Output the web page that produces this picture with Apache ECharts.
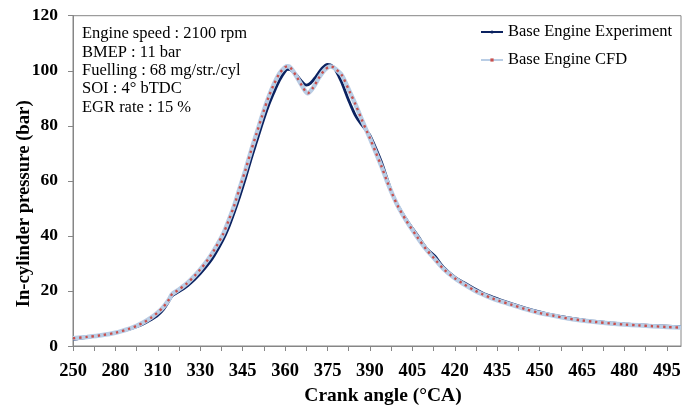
<!DOCTYPE html>
<html>
<head>
<meta charset="utf-8">
<script src="https://cdn.jsdelivr.net/npm/echarts@6/dist/echarts.min.js"></script>
<style>html,body{margin:0;padding:0;background:#fff;}#c{width:690px;height:406px;}</style>
</head>
<body>
<div id="c"></div>
<script>
// Crank-angle categories of the original (1 deg steps before 320, 0.5 deg after)
const categories = [];
for (let a = 250; a < 320; a += 1) categories.push(String(a));
for (let a = 320; a <= 500; a += 0.5) categories.push(String(a));

const annotationLines = [
  'Engine speed : 2100 rpm',
  'BMEP : 11 bar',
  'Fuelling : 68 mg/str./cyl',
  'SOI : 4\u00b0 bTDC',
  'EGR rate : 15 %'
];

const expAngle = [250,255,260,265,270,275,280,285,290,295,300,305,310,314,318,320,322,325,328,330,333,335,338,340,342,344,346,348,350,352,354,356,358,360,361,362,364,366,367.5,369,371,373,375,376,377,378,379,380,382,383,385,387,389,390,392,394,396,398,400,403,407,410,413,416,420,423,427,430,433,436,440,445,450,455,460,465,470,475,480,485,490,495,500];
const expPressure = [2.4,2.8,3.1,3.5,3.9,4.3,4.8,5.4,6.1,7.0,8.1,9.5,11.2,13.3,16.5,18.2,19.5,21.5,24.2,26.3,30.0,33.0,38.5,43,48.5,54.5,61,68,74.5,81,87,92,96.5,99.8,100.5,100.3,98.5,96,94.8,95.5,98,100.8,102.3,102.2,101.5,100,98,95.8,90.5,88,83.5,80.5,78,76.5,72,67,61,55,50.8,45.8,39.9,35.5,32.6,28.6,25,23.2,20.8,19.2,18,16.8,15.4,13.8,12.4,11.2,10.3,9.5,8.9,8.4,8.0,7.7,7.4,7.2,7.0];

const cfdAngle = [250,260,270,280,290,295,300,305,310,314,318,320,322,325,328,330,333,335,338,340,342,344,346,348,350,352,354,356,358,360,361,362,364,366,368,370,372,374,376,377,378,380,383,385,387,389,390,392,394,396,398,400,403,407,410,413,416,420,423,427,430,433,436,440,445,450,455,460,465,470,475,480,485,490,495,500];
const cfdPressure = [2.8,3.3,3.9,4.8,6.3,7.3,8.6,10.2,12.2,14.2,17.0,18.8,20.2,22.5,25.5,27.8,31.8,35,40.5,45.5,51,57.5,64,71,77.5,84,90,95,99,101.3,101.6,101,98,94.5,91.8,94,97.5,100.3,101.5,101.3,100.5,98.5,92,87.5,82.5,77.8,75.5,70.5,65.5,60,55,50.6,45.3,39.2,35,31.5,28,24.6,22.6,20.2,18.7,17.4,16.3,15,13.4,12,11,10,9.3,8.7,8.2,7.8,7.5,7.2,6.9,6.7];

const yTicks = {min: 0, max: 120, interval: 20};

function pairs(angles, vals) {
  return angles.map((a, i) => [categories.indexOf(String(a)), vals[i]]);
}

const serif = '"Liberation Serif", "Times New Roman", serif';
const axisGray = '#868686';

const chart = echarts.init(document.getElementById('c'), null, {renderer: 'canvas'});
chart.setOption({
  animation: false,
  backgroundColor: '#fff',
  title: {
    text: annotationLines.join('\n'),
    left: 82, top: 25, padding: 0,
    textStyle: {fontFamily: serif, fontSize: 16.5, fontWeight: 'normal', color: '#000', lineHeight: 18.3}
  },
  legend: {
    orient: 'vertical',
    left: 480, top: 23, padding: 0,
    itemWidth: 22, itemHeight: 4, itemGap: 10,
    data: ['Base Engine Experiment', 'Base Engine CFD'],
    textStyle: {fontFamily: serif, fontSize: 16.5, color: '#000', lineHeight: 18}
  },
  grid: {left: 73, right: 9, top: 15.7, bottom: 60, show: true, borderColor: axisGray, borderWidth: 1,
         backgroundColor: 'transparent', containLabel: false, outerBoundsMode: 'none'},
  xAxis: {
    type: 'category',
    data: categories,
    boundaryGap: false,
    name: 'Crank angle (\u00b0CA)',
    nameLocation: 'middle',
    nameGap: 40,
    nameTextStyle: {fontFamily: serif, fontSize: 19.5, fontWeight: 'bold', color: '#000', padding: [0, 0, 0, 12]},
    axisLine: {lineStyle: {color: axisGray, width: 1}},
    axisTick: {show: true, interval: 14, length: 5, lineStyle: {color: axisGray}},
    axisLabel: {interval: 29, margin: 16, fontFamily: serif, fontSize: 18.5, fontWeight: 'bold', color: '#000'},
    splitLine: {show: false}
  },
  yAxis: {
    type: 'value',
    min: yTicks.min, max: yTicks.max, interval: yTicks.interval,
    name: 'In-cylinder pressure (bar)',
    nameLocation: 'middle',
    nameGap: 39,
    nameRotate: 90,
    nameMoveOverlap: false,
    nameTextStyle: {fontFamily: serif, fontSize: 18.7, fontWeight: 'bold', color: '#000', padding: [0, 46, 0, 0]},
    axisLine: {show: true, lineStyle: {color: axisGray, width: 1}},
    axisTick: {show: true, length: 5, lineStyle: {color: axisGray}},
    axisLabel: {margin: 15, fontFamily: serif, fontSize: 17.5, fontWeight: 'bold', color: '#000'},
    splitLine: {show: false}
  },
  series: [
    {
      name: 'Base Engine Experiment',
      type: 'line',
      data: pairs(expAngle, expPressure),
      smooth: 0.3,
      symbol: 'none',
      showSymbol: false,
      itemStyle: {color: '#0b2260'},
      lineStyle: {color: '#0b2260', width: 2.8},
      z: 2
    },
    {
      name: 'Base Engine CFD',
      type: 'line',
      data: pairs(cfdAngle, cfdPressure),
      smooth: 0.3,
      symbol: 'rect',
      symbolSize: 3,
      showSymbol: false,
      itemStyle: {color: '#c9504d'},
      lineStyle: {color: '#b9cde5', width: 4.5},
      z: 3
    },
    {
      name: 'CFD dots',
      type: 'line',
      data: pairs(cfdAngle, cfdPressure),
      smooth: 0.3,
      symbol: 'none',
      showSymbol: false,
      lineStyle: {color: '#c9504d', width: 2.4, type: [2.4, 3.8]},
      silent: true,
      z: 4
    }
  ]
});
</script>
</body>
</html>
